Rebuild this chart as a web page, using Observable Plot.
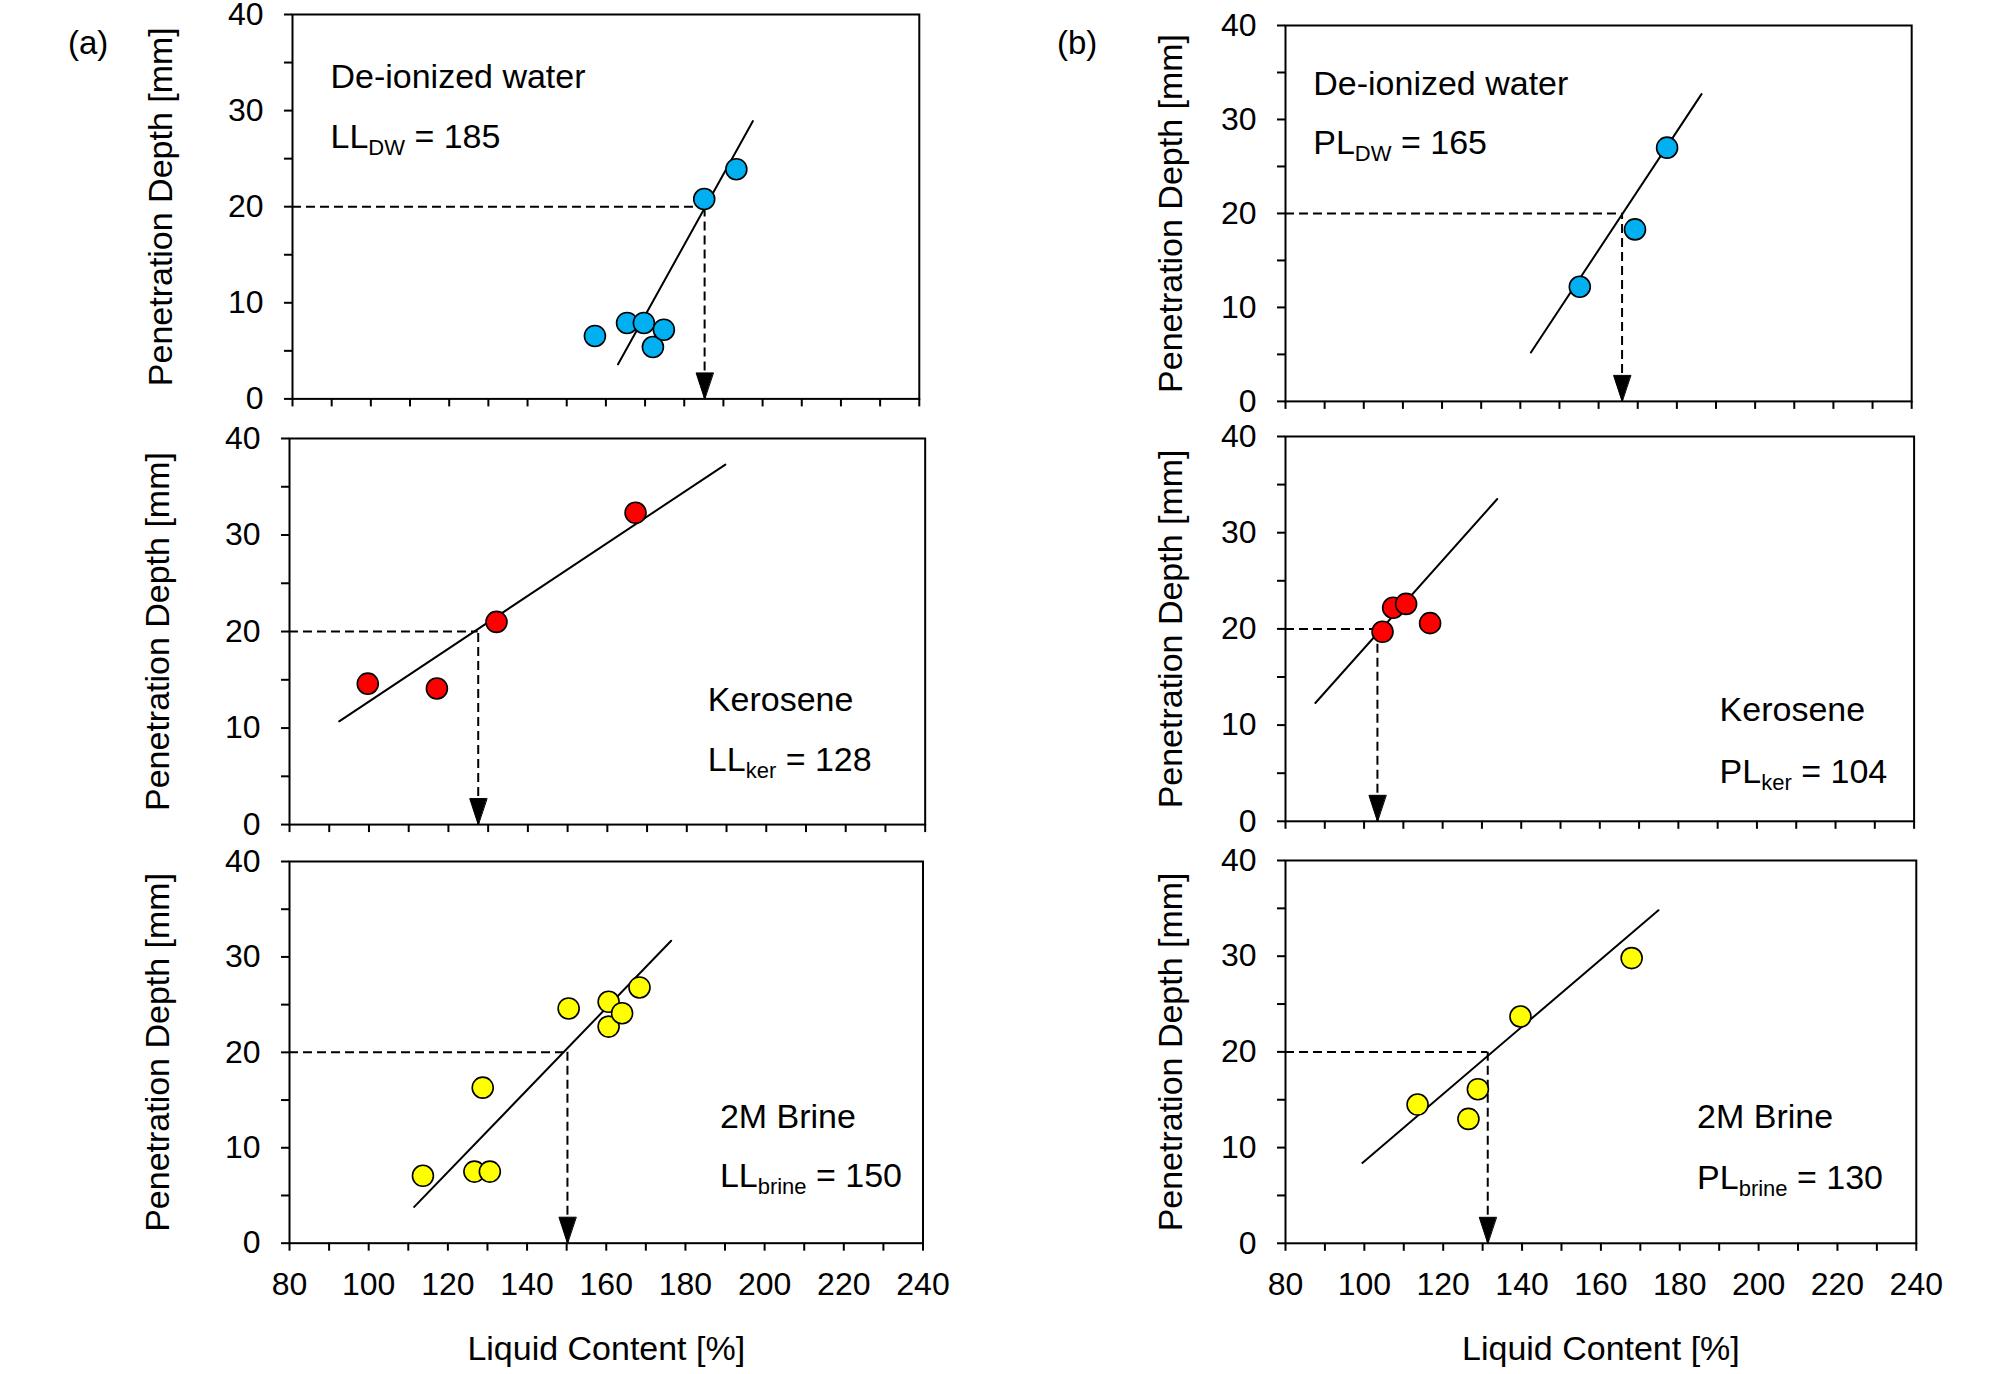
<!DOCTYPE html>
<html>
<head>
<meta charset="utf-8">
<script src="https://cdn.jsdelivr.net/npm/d3@7"></script>
<script src="https://cdn.jsdelivr.net/npm/@observablehq/plot@0.6"></script>
<style>
  html, body { margin: 0; padding: 0; background: #fff; }
  #root { position: relative; width: 2008px; height: 1374px; overflow: hidden; background: #fff;
          font-family: "Liberation Sans", Arial, sans-serif; color: #000; }
  .panel { position: absolute; }
  .tag { position: absolute; font-size: 33px; line-height: 33px; }
</style>
</head>
<body>
<div id="root"></div>
<script>
// ---------------- data ----------------
const fluids = ["De-ionized water", "Kerosene", "2M Brine"];
const fillColors = ["#00B0F0", "#FF0000", "#FFFF00"];

// (a) liquid limit tests
const llWaterX = [157.2, 165.4, 169.7, 172.0, 174.8, 185.1, 193.3];
const llWaterY = [6.55, 7.9, 7.9, 5.4, 7.2, 20.8, 23.9];
const llKerX = [99.7, 117.1, 132.1, 167.1];
const llKerY = [14.6, 14.1, 21.0, 32.3];
const llBrineX = [113.7, 126.7, 130.6, 128.8, 150.5, 160.6, 160.6, 164.0, 168.4];
const llBrineY = [7.06, 7.5, 7.5, 16.3, 24.6, 25.3, 22.7, 24.1, 26.8];
const llFitX = [[163.1, 197.5], [92.5, 189.7], [111.5, 176.4]];
const llFitY = [[3.6, 28.9], [10.7, 37.3], [3.8, 31.7]];
const llCross = [185.2, 127.5, 150.2];
const llLabels = ["LL_{DW} = 185", "LL_{ker} = 128", "LL_{brine} = 150"];

// (b) plastic limit tests
const plWaterX = [155.2, 169.3, 177.5];
const plWaterY = [12.2, 18.3, 27.0];
const plKerX = [104.7, 107.4, 110.7, 116.8];
const plKerY = [19.7, 22.2, 22.6, 20.6];
const plBrineX = [113.5, 126.4, 128.8, 139.6, 167.8];
const plBrineY = [14.5, 13.0, 16.1, 23.7, 29.8];
const plFitX = [[142.7, 186.3], [87.6, 133.9], [99.5, 174.6]];
const plFitY = [[5.2, 32.7], [12.3, 33.5], [8.4, 34.8]];
const plCross = [166.0, 103.4, 131.3];
const plLabels = ["PL_{DW} = 165", "PL_{ker} = 104", "PL_{brine} = 130"];

const crossDepth = 20;
const xTicks = [80, 90, 100, 110, 120, 130, 140, 150, 160, 170, 180, 190, 200, 210, 220, 230, 240];
const xTickLabels = [80, 100, 120, 140, 160, 180, 200, 220, 240];
const yTicks = [0, 5, 10, 15, 20, 25, 30, 35, 40];
const yTickLabels = [0, 10, 20, 30, 40];
const xLabel = "Liquid Content [%]";
const yLabel = "Penetration Depth [mm]";
const panelTags = ["(a)", "(b)"];

// ---------------- layout ----------------
const boxes = [
  [ {left: 291.5, top: 14.3, right: 918.3, bottom: 398.7},
    {left: 289.3, top: 437.9, right: 925.0, bottom: 824.0},
    {left: 289.3, top: 860.6, right: 922.8, bottom: 1242.3} ],
  [ {left: 1284.8, top: 25.0, right: 1911.0, bottom: 400.9},
    {left: 1284.8, top: 435.7, right: 1913.4, bottom: 820.5},
    {left: 1284.8, top: 859.5, right: 1915.6, bottom: 1242.3} ]
];
const textPos = [
  [ {x: 89.7, y1: 32.3, y2: 26.1}, {x: 185.3, y1: 11.8, y2: 5.55}, {x: 188.7, y1: 12.1, y2: 5.85} ],
  [ {x: 87.1, y1: 32.6, y2: 26.3}, {x: 190.5, y1: 10.4, y2: 4.0}, {x: 184.4, y1: 12.0, y2: 5.7} ]
];
const yLabelOffset = [145, 128];
const tagPos = [{left: 68, top: 26}, {left: 1057, top: 26}];

const columns = [
  {xs: [llWaterX, llKerX, llBrineX], ys: [llWaterY, llKerY, llBrineY], fitX: llFitX, fitY: llFitY, cross: llCross, labels: llLabels},
  {xs: [plWaterX, plKerX, plBrineX], ys: [plWaterY, plKerY, plBrineY], fitX: plFitX, fitY: plFitY, cross: plCross, labels: plLabels}
];

const arrowHead = {
  draw(context, l) {
    context.moveTo(0, -l);
    context.lineTo(8.5, 0);
    context.lineTo(-8.5, 0);
    context.closePath();
  }
};

function addSubscripts(svg) {
  svg.querySelectorAll("text").forEach(t => {
    const s = t.textContent;
    const m = s.match(/^(.*?)_\{(.*?)\}(.*)$/);
    if (!m) return;
    const ns = "http://www.w3.org/2000/svg";
    while (t.firstChild) t.removeChild(t.firstChild);
    const a = document.createElementNS(ns, "tspan"); a.textContent = m[1];
    const b = document.createElementNS(ns, "tspan"); b.textContent = m[2];
    b.setAttribute("font-size", "22"); b.setAttribute("dy", "7");
    const c = document.createElementNS(ns, "tspan"); c.textContent = m[3];
    c.setAttribute("dy", "-7");
    t.append(a, b, c);
  });
}

function enlargeAxisLabels(svg) {
  svg.querySelectorAll('g[aria-label="y-axis label"], g[aria-label="x-axis label"]').forEach(g => {
    g.setAttribute("font-size", "34");
    g.querySelectorAll("text").forEach(t => t.setAttribute("font-size", "34"));
  });
}

const root = document.getElementById("root");

columns.forEach((col, ci) => {
  col.xs.forEach((xsArr, ri) => {
    const box = boxes[ci][ri];
    const bottomRow = ri === 2;
    const marginLeft = 170, marginRight = 10, marginTop = 14;
    const marginBottom = bottomRow ? 131 : 20;
    const width = (box.right - box.left) + marginLeft + marginRight;
    const height = (box.bottom - box.top) + marginTop + marginBottom;
    const pts = xsArr.map((x, i) => ({x, y: col.ys[ri][i]}));
    const fit = col.fitX[ri].map((x, i) => ({x, y: col.fitY[ri][i]}));
    const cx = col.cross[ri];
    const tp = textPos[ci][ri];

    const chart = Plot.plot({
      width, height, marginLeft, marginRight, marginTop, marginBottom,
      x: {domain: [80, 240]},
      y: {domain: [0, 40]},
      style: {fontFamily: "'Liberation Sans', Arial, sans-serif", fontSize: "32px", color: "#000", background: "transparent", overflow: "visible"},
      marks: [
        Plot.axisY({ticks: yTicks, tickSize: 8, tickPadding: 21, strokeWidth: 2, fontSize: 32,
          tickFormat: d => yTickLabels.includes(d) ? String(d) : "",
          label: yLabel, labelAnchor: "center", labelArrow: "none", labelOffset: yLabelOffset[ci]}),
        Plot.axisX({ticks: xTicks, tickSize: 8, tickPadding: 21, strokeWidth: 2, fontSize: 32,
          tickFormat: d => (bottomRow && xTickLabels.includes(d)) ? String(d) : "",
          label: bottomRow ? xLabel : null, labelAnchor: "center", labelArrow: "none", labelOffset: 117}),
        Plot.ruleY([{x: cx, y: crossDepth}], {x1: 80, x2: "x", y: "y", stroke: "#000", strokeWidth: 2, strokeDasharray: "9,5"}),
        Plot.ruleX([{x: cx, y: crossDepth}], {x: "x", y1: 0, y2: "y", stroke: "#000", strokeWidth: 2, strokeDasharray: "9,5"}),
        Plot.vector([{x: cx, y: 0}], {x: "x", y: "y", length: 26, rotate: 180, anchor: "end", shape: arrowHead, fill: "#000", stroke: "#000", strokeWidth: 1}),
        Plot.line(fit, {x: "x", y: "y", stroke: "#000", strokeWidth: 2}),
        Plot.dot(pts, {x: "x", y: "y", r: 10.5, fill: fillColors[ri], stroke: "#000", strokeWidth: 1.6}),
        Plot.text([fluids[ri]], {x: tp.x, y: tp.y1, text: d => d, textAnchor: "start", lineAnchor: "bottom", dy: 0, fontSize: 34}),
        Plot.text([col.labels[ri]], {x: tp.x, y: tp.y2, text: d => d, textAnchor: "start", lineAnchor: "bottom", dy: 0, fontSize: 34}),
        Plot.frame({stroke: "#000", strokeWidth: 2})
      ]
    });
    addSubscripts(chart);
    enlargeAxisLabels(chart);
    chart.classList.add("panel");
    chart.style.left = (box.left - marginLeft) + "px";
    chart.style.top = (box.top - marginTop) + "px";
    root.appendChild(chart);
  });
});

panelTags.forEach((t, i) => {
  const d = document.createElement("div");
  d.className = "tag";
  d.textContent = t;
  d.style.left = tagPos[i].left + "px";
  d.style.top = tagPos[i].top + "px";
  root.appendChild(d);
});
</script>
</body>
</html>
